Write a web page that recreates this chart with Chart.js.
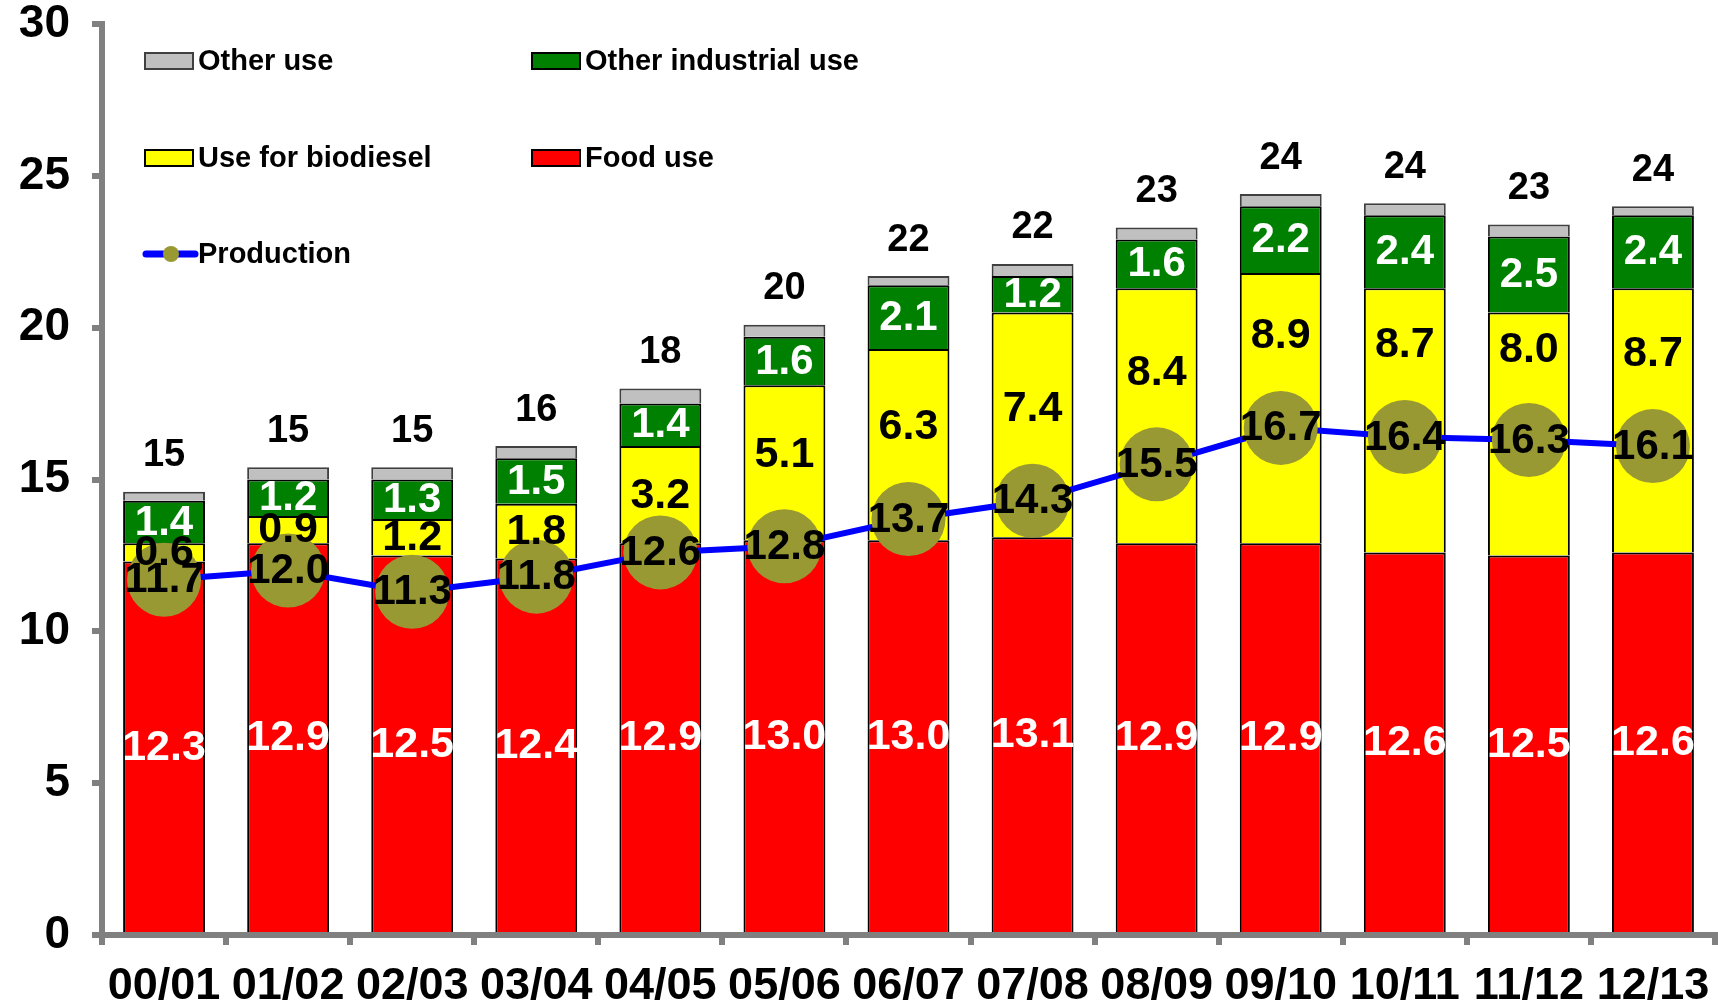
<!DOCTYPE html>
<html>
<head>
<meta charset="utf-8">
<script src="https://cdn.jsdelivr.net/npm/chart.js@4.4.1/dist/chart.umd.min.js"></script>
<style>
html,body{margin:0;padding:0;background:#fff;}
#wrap{width:1718px;height:1007px;position:relative;}
</style>
</head>
<body>
<div id="wrap"><canvas id="c"></canvas></div>
<script>
const categories = ['00/01','01/02','02/03','03/04','04/05','05/06','06/07','07/08','08/09','09/10','10/11','11/12','12/13'];
const foodUse = [12.3,12.9,12.5,12.4,12.9,13.0,13.0,13.1,12.9,12.9,12.6,12.5,12.6];
const biodieselUse = [0.6,0.9,1.2,1.8,3.2,5.1,6.3,7.4,8.4,8.9,8.7,8.0,8.7];
const otherIndustrialUse = [1.4,1.2,1.3,1.5,1.4,1.6,2.1,1.2,1.6,2.2,2.4,2.5,2.4];
const otherUse = [0.3,0.4,0.4,0.4,0.5,0.4,0.3,0.4,0.4,0.4,0.4,0.4,0.3];
const production = [11.7,12.0,11.3,11.8,12.6,12.8,13.7,14.3,15.5,16.7,16.4,16.3,16.1];
const totalLabels = [15,15,15,16,18,20,22,22,23,24,24,23,24];
const yMin = 0, yMax = 30, yStep = 5;

const FONT = '"Liberation Sans", Arial, Helvetica, sans-serif';
const AXIS_GRAY = '#808080';

const labelPlugin = {
  id: 'valueLabels',
  afterDatasetsDraw(chart) {
    const ctx = chart.ctx;
    const yScale = chart.scales.y;
    ctx.save();
    ctx.textAlign = 'center';
    ctx.textBaseline = 'middle';
    const segs = [
      {i: 0, color: '#ffffff', size: 43},
      {i: 1, color: '#000000', size: 43},
      {i: 2, color: '#ffffff', size: 42}
    ];
    segs.forEach(s => {
      const meta = chart.getDatasetMeta(s.i);
      const data = chart.data.datasets[s.i].data;
      ctx.font = `bold ${s.size}px ${FONT}`;
      ctx.fillStyle = s.color;
      meta.data.forEach((bar, j) => {
        const p = bar.getProps(['x', 'y', 'base'], true);
        let y = (p.y + p.base) / 2;
        if (s.i === 1 && data[j] >= 4) {
          // keep the biodiesel label clear of the production marker
          const segTop = yScale.getValueForPixel(p.y);
          const centre = yScale.getValueForPixel(y);
          const wanted = Math.min(production[j] + 3.05, segTop - 1.2);
          if (wanted > centre) y = yScale.getPixelForValue(wanted);
        }
        ctx.fillText(data[j].toFixed(1), p.x, y + 1);
      });
    });
    // totals above bars
    const topMeta = chart.getDatasetMeta(3);
    ctx.font = `bold 38px ${FONT}`;
    ctx.fillStyle = '#000';
    topMeta.data.forEach((bar, j) => {
      const p = bar.getProps(['x', 'y'], true);
      ctx.fillText(String(totalLabels[j]), p.x, p.y - 36);
    });
    // production labels
    const pm = chart.getDatasetMeta(4);
    ctx.font = `bold 42px ${FONT}`;
    pm.data.forEach((pt, j) => {
      const p = pt.getProps(['x', 'y'], true);
      ctx.fillText(production[j].toFixed(1), p.x, p.y + 1);
    });

    // legend
    const ds = chart.data.datasets;
    const L = chart.chartArea.left;
    const T = chart.chartArea.top;
    const items = [
      {d: 3, col: 0, row: 0},
      {d: 2, col: 1, row: 0},
      {d: 1, col: 0, row: 1},
      {d: 0, col: 1, row: 1}
    ];
    const colX = [L + 43, L + 430];
    const rowY = [T + 37, T + 134, T + 230];
    ctx.font = `bold 29px ${FONT}`;
    ctx.textAlign = 'left';
    items.forEach(it => {
      const d = ds[it.d];
      const x = colX[it.col], y = rowY[it.row];
      ctx.fillStyle = d.backgroundColor;
      ctx.fillRect(x, y - 8, 48, 16);
      ctx.lineWidth = 2;
      ctx.strokeStyle = d.borderColor;
      ctx.strokeRect(x, y - 8, 48, 16);
      ctx.fillStyle = '#000';
      ctx.fillText(d.label, x + 53, y + 1);
    });
    // production legend
    const pd = ds[4];
    const x = colX[0], y = rowY[2];
    ctx.strokeStyle = pd.borderColor;
    ctx.lineWidth = 7;
    ctx.lineCap = 'round';
    ctx.beginPath();
    ctx.moveTo(x + 1, y);
    ctx.lineTo(x + 50, y);
    ctx.stroke();
    ctx.fillStyle = pd.pointBackgroundColor;
    ctx.beginPath();
    ctx.arc(x + 26, y, 8, 0, Math.PI * 2);
    ctx.fill();
    ctx.fillStyle = '#000';
    ctx.fillText(pd.label, x + 53, y + 1);
    ctx.restore();
  }
};

const barCommon = {
  type: 'bar',
  stack: 'use',
  borderWidth: 2,
  barPercentage: 0.66,
  categoryPercentage: 1.0,
  order: 1
};

new Chart(document.getElementById('c'), {
  data: {
    labels: categories,
    datasets: [
      Object.assign({}, barCommon, {label: 'Food use', data: foodUse, backgroundColor: '#FF0000', borderColor: '#000000'}),
      Object.assign({}, barCommon, {label: 'Use for biodiesel', data: biodieselUse, backgroundColor: '#FFFF00', borderColor: '#000000'}),
      Object.assign({}, barCommon, {label: 'Other industrial use', data: otherIndustrialUse, backgroundColor: '#008000', borderColor: '#000000'}),
      Object.assign({}, barCommon, {label: 'Other use', data: otherUse, backgroundColor: '#C0C0C0', borderColor: '#404040'}),
      {
        type: 'line',
        label: 'Production',
        stack: 'prod',
        data: production,
        borderColor: '#0000FF',
        borderWidth: 6,
        pointRadius: 37,
        pointHoverRadius: 37,
        pointBackgroundColor: '#999933',
        pointBorderColor: '#999933',
        pointBorderWidth: 0,
        tension: 0,
        fill: false,
        clip: false,
        order: 0
      }
    ]
  },
  options: {
    responsive: true,
    maintainAspectRatio: false,
    animation: false,
    events: [],
    layout: {autoPadding: false, padding: {top: 24, right: 3, left: 0, bottom: 0}},
    plugins: {
      legend: {display: false},
      tooltip: {enabled: false},
      title: {display: false}
    },
    scales: {
      x: {
        stacked: true,
        grid: {display: true, drawOnChartArea: false, drawTicks: true, offset: true, tickLength: 10, tickWidth: 6, tickColor: AXIS_GRAY, color: AXIS_GRAY, lineWidth: 6},
        border: {display: true, color: AXIS_GRAY, width: 6},
        ticks: {color: '#000', font: {family: FONT, size: 45, weight: 'bold'}, padding: 15, maxRotation: 0, autoSkip: false},
        afterFit(scale) { scale.height = 72; scale.paddingLeft = 0; scale.paddingRight = 0; }
      },
      y: {
        stacked: true,
        min: yMin,
        max: yMax,
        grid: {display: true, drawOnChartArea: false, drawTicks: true, tickLength: 10, tickWidth: 6, tickColor: AXIS_GRAY, color: AXIS_GRAY, lineWidth: 6},
        border: {display: true, color: AXIS_GRAY, width: 6},
        ticks: {stepSize: yStep, color: '#000', font: {family: FONT, size: 46, weight: 'bold'}, padding: 22},
        afterFit(scale) { scale.width = 102; scale.paddingTop = 0; scale.paddingBottom = 0; }
      }
    }
  },
  plugins: [labelPlugin]
});
</script>
</body>
</html>
